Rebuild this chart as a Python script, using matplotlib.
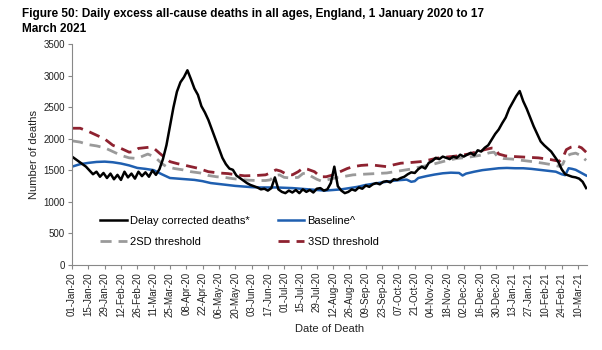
import numpy as np
import pandas as pd
import matplotlib
matplotlib.use("Agg")
import matplotlib.pyplot as plt
import matplotlib.dates as mdates

plt.rcParams['font.family'] = ['Liberation Sans', 'DejaVu Sans']

start = pd.Timestamp('2020-01-01')
end = pd.Timestamp('2021-03-17')

# delay corrected deaths, read every 3 days
black_dates = pd.date_range(start, end, freq='3D')
black_vals = [
    1720, 1680, 1640, 1600, 1560, 1500, 1440, 1480, 1400, 1460, 1380, 1450, 1360, 1430, 1350,
    1480, 1390, 1450, 1370, 1480, 1410, 1470, 1400, 1500, 1430, 1520, 1680, 1900, 2200, 2500,
    2750, 2900, 2980, 3090, 2950, 2800, 2700, 2520, 2420, 2300, 2150, 2000, 1850, 1700, 1600,
    1530, 1510, 1420, 1380, 1340, 1300, 1270, 1250, 1230, 1200, 1210, 1180, 1220, 1390, 1200,
    1160, 1140, 1180, 1150, 1190, 1140, 1200, 1160, 1190, 1150, 1210, 1220, 1180, 1200, 1300,
    1560, 1250, 1180, 1140, 1160, 1200, 1180, 1230, 1210, 1260, 1240, 1280, 1300, 1280, 1320,
    1330, 1310, 1360, 1350, 1380, 1400, 1440, 1470, 1460, 1520, 1560, 1530, 1620, 1650, 1700,
    1680, 1720, 1700, 1680, 1720, 1700, 1750, 1720, 1750, 1780, 1740, 1820, 1800, 1860, 1900,
    1990, 2080, 2150, 2250, 2340, 2480, 2580, 2680, 2760, 2600, 2480, 2340, 2200, 2080, 1960,
    1900, 1850, 1800, 1720, 1640, 1520, 1440, 1420, 1400, 1390, 1370, 1320, 1220,
]

# baseline (days since 1 Jan 2020)
base_days = [0, 7, 14, 21, 28, 35, 42, 49, 56, 63, 70, 77, 84, 91, 98, 105, 112, 119, 126, 133,
             140, 147, 154, 161, 168, 175, 182, 189, 196, 203, 210, 217, 224, 231, 238, 245, 252,
             259, 266, 273, 280, 287, 291, 294, 297, 304, 311, 318, 325, 332, 335, 338, 345, 352,
             359, 366, 373, 380, 387, 394, 401, 408, 415, 420, 423, 426, 429, 432, 436, 441]
base_vals = [1560, 1600, 1620, 1635, 1640, 1630, 1610, 1580, 1540, 1525, 1505, 1440, 1380, 1370,
             1360, 1350, 1330, 1300, 1285, 1270, 1255, 1245, 1235, 1230, 1230, 1230, 1225, 1220,
             1210, 1200, 1190, 1180, 1190, 1200, 1220, 1240, 1270, 1290, 1310, 1330, 1345, 1355,
             1320, 1330, 1380, 1410, 1435, 1455, 1465, 1460, 1420, 1450, 1480, 1505, 1520, 1535,
             1540, 1535, 1535, 1525, 1510, 1495, 1480, 1440, 1425, 1535, 1525, 1510, 1470, 1420]

# 2SD threshold
sd2_days = [0, 7, 14, 21, 28, 35, 42, 49, 56, 61, 65, 69, 73, 77, 81, 88, 95, 102, 110, 117, 124,
            131, 138, 145, 152, 160, 166, 170, 174, 178, 182, 188, 194, 198, 201, 205, 210, 214,
            221, 228, 235, 241, 250, 260, 270, 280, 290, 300, 310, 320, 330, 340, 350, 358, 362,
            365, 370, 378, 386, 395, 404, 412, 418, 421, 424, 428, 432, 436, 441]
sd2_vals = [1970, 1950, 1910, 1890, 1860, 1800, 1740, 1700, 1690, 1730, 1760, 1730, 1680, 1610,
            1560, 1530, 1510, 1480, 1460, 1420, 1400, 1390, 1370, 1355, 1345, 1340, 1340, 1350,
            1420, 1430, 1390, 1380, 1390, 1450, 1460, 1410, 1360, 1330, 1360, 1390, 1410, 1430,
            1440, 1450, 1460, 1490, 1520, 1560, 1600, 1650, 1690, 1710, 1740, 1780, 1790, 1720,
            1690, 1680, 1660, 1640, 1615, 1590, 1565, 1600, 1730, 1760, 1775, 1740, 1660]

# 3SD threshold
sd3_days = [0, 7, 14, 21, 28, 35, 42, 49, 53, 57, 62, 67, 71, 75, 80, 84, 90, 95, 102, 108, 117,
            126, 134, 141, 148, 158, 166, 170, 175, 179, 184, 189, 194, 198, 202, 208, 213, 218,
            224, 230, 236, 241, 248, 256, 263, 270, 276, 282, 290, 299, 306, 313, 320, 330, 340,
            348, 354, 360, 363, 366, 372, 380, 390, 400, 410, 418, 421, 424, 428, 433, 437, 441]
sd3_vals = [2170, 2170, 2120, 2060, 2000, 1900, 1850, 1790, 1800, 1850, 1860, 1870, 1840, 1775,
            1700, 1640, 1610, 1590, 1560, 1535, 1480, 1460, 1450, 1430, 1415, 1420, 1430, 1460,
            1510, 1490, 1440, 1430, 1480, 1535, 1520, 1480, 1400, 1400, 1430, 1480, 1530, 1560,
            1580, 1590, 1575, 1560, 1590, 1615, 1625, 1640, 1665, 1695, 1710, 1730, 1760, 1800,
            1830, 1855, 1850, 1760, 1730, 1720, 1710, 1700, 1675, 1645, 1700, 1830, 1870, 1890,
            1860, 1790]


def to_dates(days):
    return [start + pd.Timedelta(days=d) for d in days]


fig = plt.figure(figsize=(6.02, 3.5), dpi=100)
ax = fig.add_axes([0.1196, 0.243, 0.856, 0.630])

ax.plot(to_dates(sd2_days), sd2_vals, color='#9a9a9a', lw=2.0, dashes=(4, 2.5), label='2SD threshold')
ax.plot(to_dates(sd3_days), sd3_vals, color='#8e2230', lw=2.0, dashes=(4, 2.5), label='3SD threshold')
ax.plot(to_dates(base_days), base_vals, color='#1f5fb0', lw=1.8, label='Baseline^')
ax.plot(black_dates, black_vals, color='black', lw=1.8, label='Delay corrected deaths*')

ax.set_xlim(start, start + pd.Timedelta(days=442))
ax.set_ylim(0, 3500)
ax.set_yticks(range(0, 3501, 500))
ticks = pd.date_range(start, end, freq='14D')
ax.set_xticks(ticks)
ax.xaxis.set_major_formatter(mdates.DateFormatter('%d-%b-%y'))
ax.tick_params(axis='x', rotation=90, labelsize=7, length=3, color='#888888', labelcolor='#222222', pad=2)
ax.tick_params(axis='y', labelsize=7, length=3, color='#888888', labelcolor='#222222', pad=2)

for s in ['top', 'right']:
    ax.spines[s].set_visible(False)
for s in ['left', 'bottom']:
    ax.spines[s].set_color('#888888')

ax.set_ylabel('Number of deaths', fontsize=8, color='#222222', labelpad=3)
ax.set_xlabel('Date of Death', fontsize=8, color='#222222', labelpad=4)

h, l = ax.get_legend_handles_labels()
order = [3, 0, 2, 1]
ax.legend([h[i] for i in order], [l[i] for i in order], ncol=2, frameon=False, fontsize=8,
          loc='lower left', bbox_to_anchor=(0.035, 0.035), handlelength=2.4, handletextpad=0.3,
          columnspacing=2.5, labelspacing=1.05)

fig.text(0.036, 0.978, 'Figure 50: Daily excess all-cause deaths in all ages, England, 1 January 2020 to 17\nMarch 2021',
         fontsize=8.5, fontweight='bold', va='top', ha='left', linespacing=1.4)

fig.savefig('out.png', dpi=100)
